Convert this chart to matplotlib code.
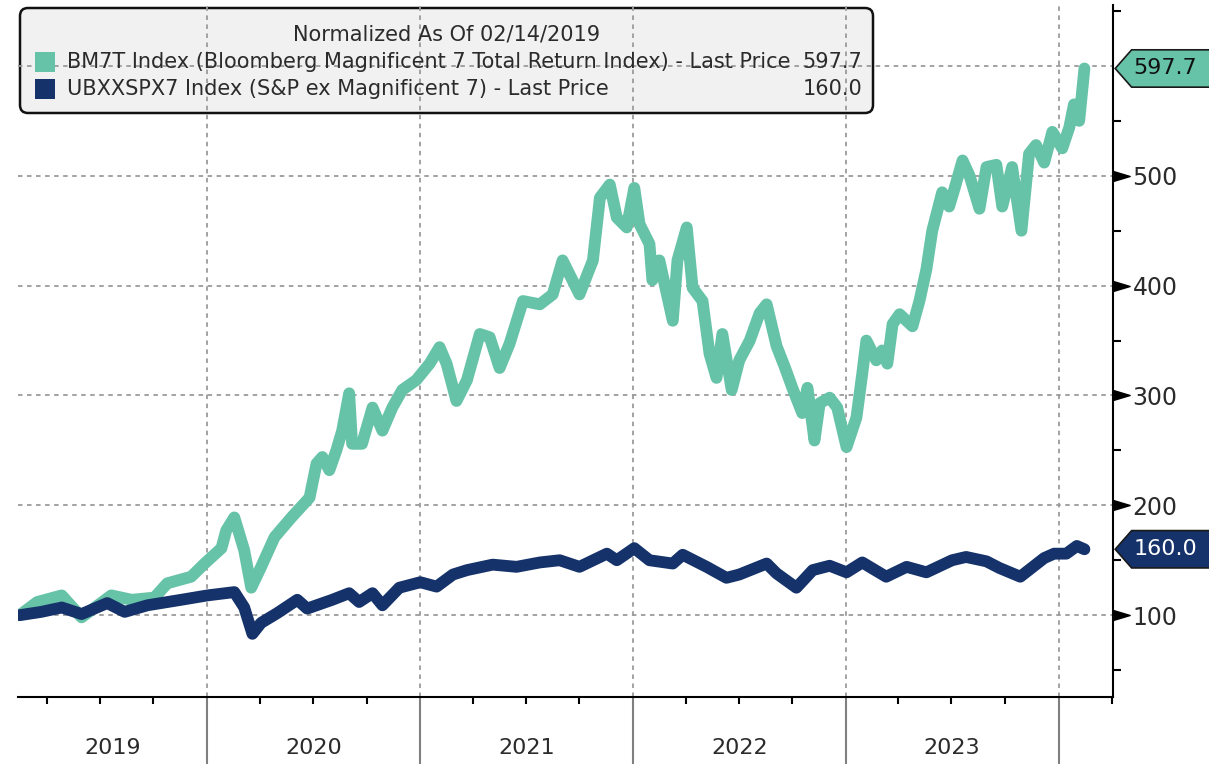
"""
Bloomberg style chart: Magnificent 7 vs S&P ex Magnificent 7, normalized as of 02/14/2019.
"""

import pandas as pd
import matplotlib
matplotlib.use("Agg")
import matplotlib.pyplot as plt
import matplotlib.dates as mdates
from matplotlib.patches import FancyBboxPatch, Rectangle, Polygon
from matplotlib.ticker import FixedLocator

GREEN = "#66c3a7"
NAVY = "#15326a"
GRID = "#9b9b9b"
TEXT = "#2b2b2b"

bm7t_dates = [
    "2019-02-14", "2019-03-16", "2019-04-27", "2019-05-31", "2019-07-21", "2019-08-25",
    "2019-10-03", "2019-10-25", "2019-12-05", "2019-12-28", "2020-01-26", "2020-02-03",
    "2020-02-17", "2020-03-05", "2020-03-17", "2020-04-03", "2020-04-26", "2020-05-25",
    "2020-06-13", "2020-06-25", "2020-07-07", "2020-07-17", "2020-07-29", "2020-08-10",
    "2020-08-20", "2020-09-01", "2020-09-06", "2020-09-23", "2020-10-11", "2020-10-28",
    "2020-11-14", "2020-12-01", "2020-12-25", "2021-01-17", "2021-02-03", "2021-02-15",
    "2021-03-04", "2021-03-22", "2021-04-13", "2021-04-30", "2021-05-17", "2021-06-03",
    "2021-06-26", "2021-07-25", "2021-08-16", "2021-09-02", "2021-10-01", "2021-10-24",
    "2021-11-05", "2021-11-22", "2021-12-04", "2021-12-21", "2022-01-03", "2022-01-12",
    "2022-01-29", "2022-02-03", "2022-02-15", "2022-03-10", "2022-03-18", "2022-04-03",
    "2022-04-13", "2022-04-30", "2022-05-12", "2022-05-24", "2022-06-03", "2022-06-19",
    "2022-07-02", "2022-07-20", "2022-08-06", "2022-08-18", "2022-09-04", "2022-09-18",
    "2022-10-01", "2022-10-18", "2022-10-27", "2022-11-08", "2022-11-17", "2022-12-04",
    "2022-12-17", "2023-01-02", "2023-01-19", "2023-01-29", "2023-02-05", "2023-02-22",
    "2023-03-04", "2023-03-13", "2023-03-22", "2023-04-03", "2023-04-25", "2023-05-07",
    "2023-05-19", "2023-05-29", "2023-06-15", "2023-06-27", "2023-07-06", "2023-07-20",
    "2023-08-01", "2023-08-18", "2023-08-30", "2023-09-16", "2023-09-26", "2023-10-13",
    "2023-10-29", "2023-11-11", "2023-11-23", "2023-12-07", "2023-12-21", "2024-01-07",
    "2024-01-19", "2024-01-27", "2024-02-05", "2024-02-14",
]
bm7t_values = [
    100, 112, 118, 98, 118, 114,
    116, 129, 135, 147, 161, 177,
    189, 159, 125, 144, 171, 189,
    200, 207, 238, 244, 232, 250,
    268, 302, 256, 256, 289, 268,
    289, 305, 314, 329, 344, 329,
    295, 314, 356, 353, 325, 347,
    386, 383, 392, 423, 392, 423,
    480, 492, 462, 453, 489, 456,
    438, 405, 423, 368, 423, 453,
    398, 386, 338, 316, 356, 305,
    332, 350, 375, 383, 345, 326,
    307, 284, 307, 259, 293, 298,
    289, 253, 280, 320, 350, 332,
    341, 329, 365, 374, 363, 386,
    415, 450, 485, 472, 488, 514,
    500, 470, 508, 510, 472, 508,
    450, 520, 528, 512, 540, 525,
    544, 565, 550, 597.7,
]

ubx_dates = [
    "2019-02-14", "2019-03-23", "2019-04-27", "2019-05-31", "2019-07-14", "2019-08-13",
    "2019-09-21", "2019-11-18", "2020-01-02", "2020-02-17", "2020-03-05", "2020-03-19",
    "2020-04-03", "2020-05-01", "2020-06-04", "2020-06-21", "2020-08-03", "2020-09-01",
    "2020-09-18", "2020-10-11", "2020-10-28", "2020-11-26", "2021-01-01", "2021-01-29",
    "2021-02-26", "2021-03-22", "2021-05-05", "2021-06-15", "2021-07-25", "2021-08-28",
    "2021-10-01", "2021-11-17", "2021-12-04", "2022-01-03", "2022-01-29", "2022-03-10",
    "2022-03-27", "2022-05-07", "2022-06-10", "2022-07-02", "2022-08-18", "2022-09-04",
    "2022-10-08", "2022-11-05", "2022-12-04", "2023-01-02", "2023-01-29", "2023-03-11",
    "2023-04-15", "2023-05-19", "2023-07-02", "2023-07-26", "2023-08-30", "2023-09-21",
    "2023-10-27", "2023-12-07", "2023-12-24", "2024-01-14", "2024-02-01", "2024-02-14",
]
ubx_values = [
    100, 103, 107, 101, 111, 103,
    109, 114, 118, 121, 107, 83,
    93, 102, 114, 106, 114, 120,
    112, 120, 109, 125, 130, 126,
    137, 141, 146, 144, 148, 150,
    144, 156, 150, 161, 150, 147,
    155, 144, 134, 137, 147, 138,
    125, 141, 145, 139, 148, 135,
    144, 139, 150, 153, 149, 143,
    135, 152, 156, 156, 163, 160.0,
]

year_labels = ["2019", "2020", "2021", "2022", "2023"]
year_label_dates = ["2019-07-23", "2020-07-02", "2021-07-02", "2022-07-02", "2023-07-02"]
y_major = [100, 200, 300, 400, 500, 600]
y_major_labels = ["100", "200", "300", "400", "500", ""]
y_minor = [50, 150, 250, 350, 450, 550, 650]

legend_title = "Normalized As Of 02/14/2019"
bm7t_label = "BM7T Index (Bloomberg Magnificent 7 Total Return Index) - Last Price"
ubx_label = "UBXXSPX7 Index (S&P ex Magnificent 7) - Last Price"


def add_tag(ax, value: float, text: str, face: str, text_color: str) -> None:
    """
    Draw a Bloomberg last-price tag pointing at the right axis.
    """
    h = 17
    pts = [(1.002, value), (1.017, value + h), (1.2, value + h),
           (1.2, value - h), (1.017, value - h)]
    trans = ax.get_yaxis_transform()
    ax.add_patch(Polygon(pts, closed=True, transform=trans, facecolor=face,
                         edgecolor="#1a1a1a", lw=1.2, clip_on=False, zorder=10))
    ax.text(1.019, value, text, transform=trans, ha="left", va="center",
            fontsize=16, color=text_color, zorder=11, clip_on=False)


def add_legend(fig) -> None:
    """
    Legend box in the top-left corner, positioned in inches.
    """
    tr = fig.dpi_scale_trans
    box = FancyBboxPatch((0.20, 6.51), 8.53, 1.05,
                         boxstyle="round,pad=0,rounding_size=0.08",
                         transform=tr, facecolor="#f1f1f1", edgecolor="#111111",
                         lw=1.8, zorder=-1)
    fig.add_artist(box)
    fig.text(4.47, 7.29, legend_title, transform=tr, ha="center", va="center",
             fontsize=15, color=TEXT)
    rows = [(7.02, GREEN, bm7t_label, "597.7"), (6.75, NAVY, ubx_label, "160.0")]
    for y, color, label, last in rows:
        fig.add_artist(Rectangle((0.35, y - 0.10), 0.20, 0.20, transform=tr,
                                 facecolor=color, edgecolor="none"))
        fig.text(0.67, y, label, transform=tr, ha="left", va="center",
                 fontsize=15, color=TEXT)
        fig.text(8.62, y, last, transform=tr, ha="right", va="center",
                 fontsize=15, color=TEXT)


def plot_chart() -> None:
    fig = plt.figure(figsize=(12.09, 7.64), dpi=100)
    ax = fig.add_axes([18 / 1209, 67 / 764, 1095 / 1209, 692 / 764])
    ax.set_facecolor("none")

    ax.plot(pd.to_datetime(bm7t_dates), bm7t_values, color=GREEN, lw=8.5,
            solid_capstyle="round", solid_joinstyle="round", zorder=3)
    ax.plot(pd.to_datetime(ubx_dates), ubx_values, color=NAVY, lw=8.5,
            solid_capstyle="round", solid_joinstyle="round", zorder=4)

    ax.set_xlim(pd.Timestamp("2019-02-11"), pd.Timestamp("2024-04-03"))
    ax.set_ylim(25.5, 655.5)

    # x axis: year separators as long grey ticks, quarters as short ticks
    ax.xaxis.set_major_locator(mdates.YearLocator())
    ax.xaxis.set_minor_locator(mdates.MonthLocator(bymonth=[4, 7, 10]))
    ax.tick_params(axis="x", which="major", length=48, width=1.5,
                   color="#808080", labelbottom=False)
    ax.tick_params(axis="x", which="minor", length=5, width=1.5, color="black")
    xtrans = ax.get_xaxis_transform()
    for d, lab in zip(year_label_dates, year_labels):
        ax.text(pd.Timestamp(d), -0.074, lab, transform=xtrans, ha="center",
                va="center", fontsize=16, color=TEXT)

    # y axis on the right
    ax.yaxis.tick_right()
    ax.set_yticks(y_major)
    ax.set_yticklabels(y_major_labels)
    ax.yaxis.set_minor_locator(FixedLocator(y_minor))
    ax.tick_params(axis="y", which="major", length=0, pad=14, labelsize=17,
                   labelcolor=TEXT)
    ax.tick_params(axis="y", which="minor", length=6, width=1.5, color="black")
    ax.plot([1] * 5, y_major[:5], transform=ax.get_yaxis_transform(),
            marker=[(0, -0.3), (1, 0), (0, 0.3)], ms=24, color="black",
            ls="none", clip_on=False, zorder=5)

    ax.grid(which="major", axis="both", color=GRID, linestyle=(0, (2.5, 2.5)), lw=1.3)
    ax.set_axisbelow(True)

    for side in ("left", "top"):
        ax.spines[side].set_visible(False)
    for side in ("bottom", "right"):
        ax.spines[side].set_linewidth(1.5)
        ax.spines[side].set_color("black")

    add_tag(ax, 597.7, "597.7", GREEN, "#111111")
    add_tag(ax, 160.0, "160.0", NAVY, "white")
    add_legend(fig)

    fig.savefig("out.png", dpi=100)


if __name__ == '__main__':
    plot_chart()
